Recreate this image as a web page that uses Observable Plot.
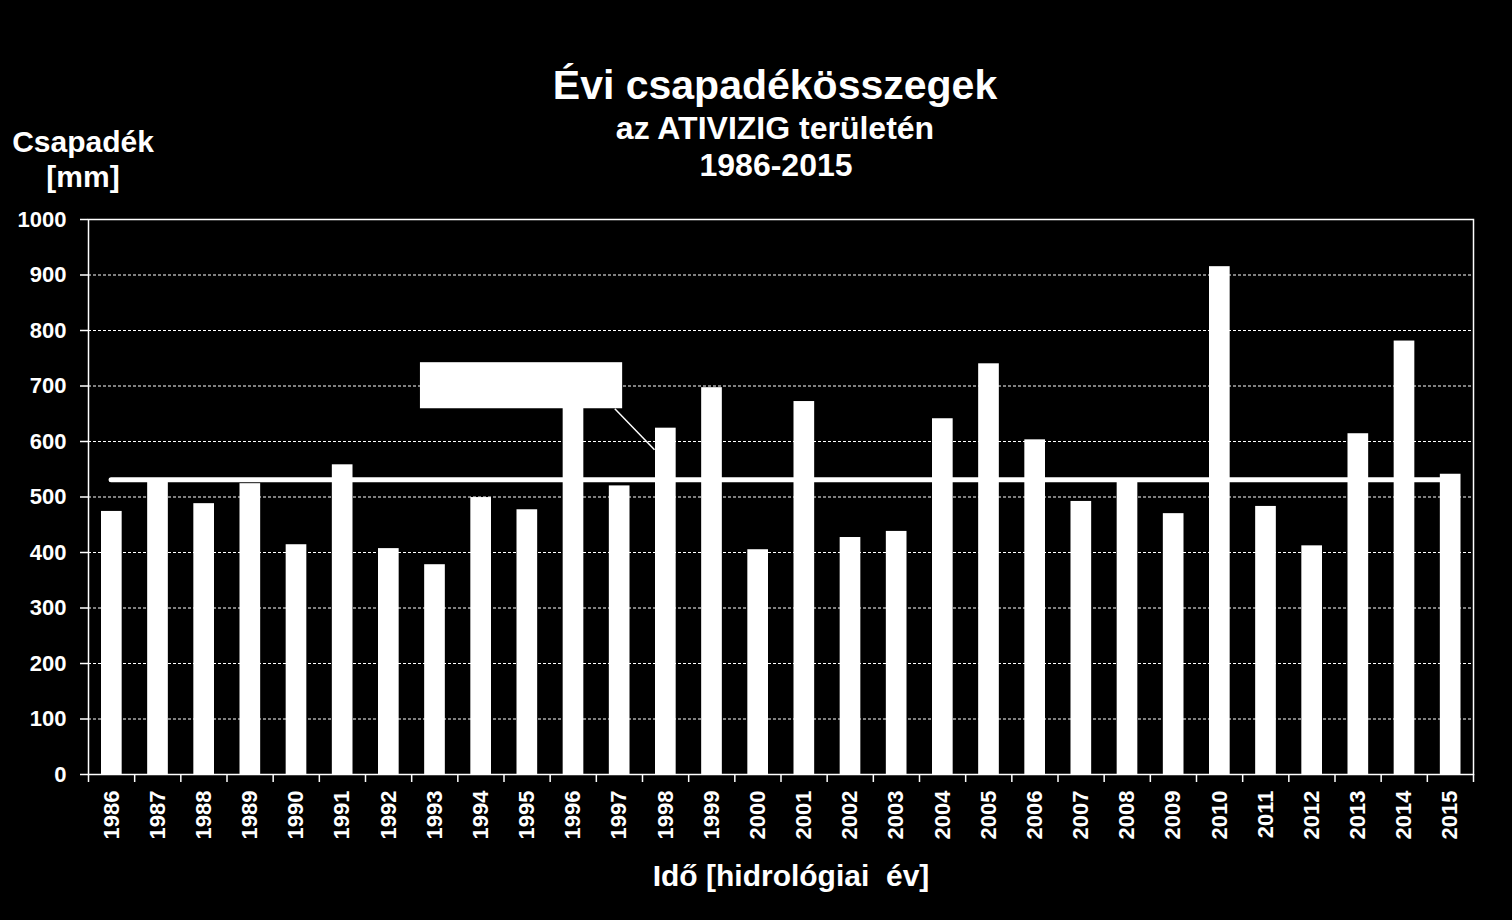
<!DOCTYPE html>
<html>
<head>
<meta charset="utf-8">
<script src="https://cdn.jsdelivr.net/npm/d3@7"></script>
<script src="https://cdn.jsdelivr.net/npm/@observablehq/plot@0.6"></script>
<style>
  html, body { margin: 0; padding: 0; background: #000; }
  body { width: 1512px; height: 920px; position: relative; overflow: hidden;
         font-family: "Liberation Sans", Arial, sans-serif; font-weight: bold; color: #fff; }
  .t { position: absolute; text-align: center; white-space: pre; }
  #chart { position: absolute; left: 0; top: 200px; }
  #chart svg text { font-size: 22px; font-weight: bold; }
</style>
</head>
<body>
<div class="t" style="left:375px;width:800px;top:65px;font-size:41px;line-height:41px;">Évi csapadékösszegek</div>
<div class="t" style="left:375px;width:800px;top:112px;font-size:32px;line-height:32px;">az ATIVIZIG területén</div>
<div class="t" style="left:376px;width:800px;top:149px;font-size:32px;line-height:32px;">1986-2015</div>
<div class="t" style="left:-17px;width:200px;top:127px;font-size:30px;line-height:30px;">Csapadék</div>
<div class="t" style="left:-17px;width:200px;top:162px;font-size:30px;line-height:30px;">[mm]</div>
<div id="chart"></div>
<div class="t" style="left:491px;width:600px;top:861px;font-size:30px;line-height:30px;">Idő [hidrológiai  év]</div>
<script>
// --- data ---
const years = [1986, 1987, 1988, 1989, 1990, 1991, 1992, 1993, 1994, 1995,
               1996, 1997, 1998, 1999, 2000, 2001, 2002, 2003, 2004, 2005,
               2006, 2007, 2008, 2009, 2010, 2011, 2012, 2013, 2014, 2015];
const precipitation = [474, 533, 488, 524, 414, 558, 407, 378, 499, 477,
                       690, 520, 624, 697, 405, 672, 427, 438, 641, 740,
                       603, 492, 533, 470, 915, 483, 412, 614, 781, 541];
const meanPrecipitation = 531;
const yTicks = [0, 100, 200, 300, 400, 500, 600, 700, 800, 900, 1000];
// callout label box (empty white label) and its leader line, in data units
const calloutBox = [{x1: 1992.69, x2: 1997.07, y1: 659, y2: 742}];
const calloutLeader = [{x1: 1996.9, y1: 659, x2: 1997.76, y2: 585}];

const data = years.map((year, i) => ({year, value: precipitation[i]}));
const meanRule = [{value: meanPrecipitation, from: years[0], to: years[years.length - 1]}];
const boundaries = years.map(y => y - 0.5).concat([years[years.length - 1] + 0.5]);

const chart = Plot.plot({
  width: 1512,
  height: 720,
  marginTop: 19,
  marginBottom: 146,
  marginLeft: 88,
  marginRight: 39,
  style: {
    background: "black",
    color: "white",
    fontFamily: "'Liberation Sans', Arial, sans-serif",
    fontWeight: "bold",
    fontSize: "22px"
  },
  x: {domain: [boundaries[0], boundaries[boundaries.length - 1]]},
  y: {domain: [0, 1000]},
  marks: [
    Plot.gridY(yTicks.slice(1, -1), {stroke: "white", strokeOpacity: 1, strokeDasharray: "3,2", strokeWidth: 1}),
    Plot.ruleY(meanRule, {y: "value", x1: "from", x2: "to", stroke: "white", strokeWidth: 5, strokeLinecap: "round"}),
    Plot.rectY(data, {x1: d => d.year - 0.5, x2: d => d.year + 0.5, y: "value", fill: "white", insetLeft: 13, insetRight: 12.5}),
    Plot.rect(calloutBox, {x1: "x1", x2: "x2", y1: "y1", y2: "y2", fill: "white"}),
    Plot.link(calloutLeader, {x1: "x1", y1: "y1", x2: "x2", y2: "y2", stroke: "white", strokeWidth: 1.5}),
    Plot.axisY({ticks: yTicks, tickSize: 8, tickPadding: 14, tickFormat: d => String(d), label: null, strokeWidth: 1.5}),
    Plot.axisX({ticks: boundaries, tickSize: 8, tickFormat: () => "", label: null, strokeWidth: 1.5}),
    Plot.axisX({ticks: years, tickSize: 0, tickPadding: 16, tickRotate: -90, tickFormat: d => String(d), label: null}),
    Plot.frame({stroke: "white", strokeWidth: 1.5})
  ]
});
document.getElementById("chart").appendChild(chart);
</script>
</body>
</html>
